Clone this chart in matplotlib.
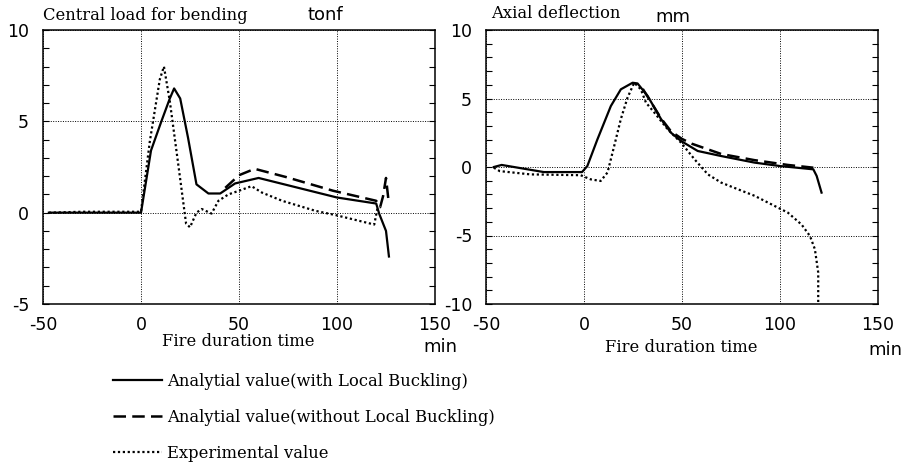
import numpy as np
import matplotlib
matplotlib.use('Agg')
import matplotlib.pyplot as plt
from matplotlib.ticker import MultipleLocator

# hyphen minus like the original print
plt.rcParams['axes.unicode_minus'] = False

# left chart: central load for bending (tonf)
load_solid_t = [-47, 0, 5.1, 10.4, 14.7, 16.9, 20, 24, 28.3, 34.4, 40.4, 48, 60, 100, 120, 121.5, 125, 126.5]
load_solid_v = [0, 0, 3.4, 5.0, 6.25, 6.8, 6.25, 4.1, 1.55, 1.05, 1.05, 1.6, 1.9, 0.83, 0.5, -0.05, -1.0, -2.4]
load_dash_t = [43, 50, 58, 74, 98, 120, 122, 123.5, 125, 126.3]
load_dash_v = [1.36, 2.05, 2.4, 1.95, 1.2, 0.65, 0.3, 0.9, 1.9, 0.65]
load_exp_t = [-47, -30, 0, 4.5, 9.6, 11.7, 14.7, 19, 23, 25, 28.3, 31, 33, 36, 39.5, 44.6, 50, 56.4, 61.7, 72, 89, 100, 119, 120.7]
load_exp_v = [0, 0.05, 0.05, 3.9, 7.3, 8.0, 6.1, 2.65, -0.6, -0.8, 0, 0.2, 0.1, -0.05, 0.65, 1.0, 1.2, 1.45, 1.1, 0.65, 0.1, -0.15, -0.65, 0.27]

# right chart: axial deflection (mm)
defl_solid_t = [-46, -42, -20.5, -1, 1.7, 6.8, 13.7, 18.8, 24.8, 27.3, 32.4, 39.3, 44.4, 49.5, 58, 70, 87, 100, 117, 118.7, 121.2]
defl_solid_v = [0, 0.15, -0.37, -0.37, 0.07, 2.0, 4.45, 5.67, 6.15, 6.1, 5.2, 3.5, 2.5, 1.9, 1.17, 0.8, 0.32, 0.07, -0.17, -0.65, -1.87]
defl_dash_t = [30, 39.3, 44.4, 50, 55, 70, 87, 104, 117]
defl_dash_v = [5.7, 3.55, 2.6, 2.05, 1.7, 0.95, 0.5, 0.15, -0.05]
defl_exp_t = [-46, -43, -27.3, -1.7, 3.4, 8.5, 12, 15.4, 18.8, 22.2, 25.6, 29, 31.6, 35.9, 42.7, 49.5, 56.4, 63.2, 70, 78.6, 87, 99, 104, 111, 115.3, 117.8, 119.5, 119.5]
defl_exp_v = [-0.05, -0.3, -0.54, -0.6, -0.9, -1.02, -0.4, 1.53, 3.5, 5.06, 6.15, 5.67, 4.7, 3.97, 2.75, 1.78, 0.56, -0.54, -1.14, -1.63, -2.1, -2.97, -3.33, -4.2, -5.04, -6.0, -7.7, -10]

x_ticks = [-50, 0, 50, 100, 150]
labels = ['Analytial value(with Local Buckling)',
          'Analytial value(without Local Buckling)',
          'Experimental value']

serif = 'DejaVu Serif'
sans = 'DejaVu Sans'
serif_size = 11.8

fig = plt.figure(figsize=(9.1, 4.62), dpi=100)
ax1 = fig.add_axes([43/910, 1-304/462, 392/910, 274/462])
ax2 = fig.add_axes([486/910, 1-304/462, 392/910, 274/462])

def draw(ax, data, ylim, yticks):
    (st, sv), (dt, dv), (et, ev) = data
    l1, = ax.plot(st, sv, color='black', lw=1.6, solid_joinstyle='round')
    l2, = ax.plot(dt, dv, color='black', lw=1.8, linestyle=(0, (5, 2.5)))
    l3, = ax.plot(et, ev, color='black', lw=1.6, linestyle=(0, (1, 1.2)))
    ax.set_xlim(-50, 150)
    ax.set_ylim(*ylim)
    ax.set_xticks(x_ticks)
    ax.set_yticks(yticks)
    ax.yaxis.set_minor_locator(MultipleLocator(1))
    ax.tick_params(axis='x', length=0, pad=9, labelsize=12.5)
    ax.tick_params(axis='y', which='both', direction='in', left=True, right=True,
                   length=4, width=0.8, pad=10, labelsize=12.5)
    ax.grid(True, color='black', lw=0.7, linestyle=(0, (1, 1.5)))
    for s in ax.spines.values():
        s.set_linewidth(1.1)
    return l1, l2, l3

h = draw(ax1, [(load_solid_t, load_solid_v), (load_dash_t, load_dash_v), (load_exp_t, load_exp_v)],
         (-5, 10), [-5, 0, 5, 10])
draw(ax2, [(defl_solid_t, defl_solid_v), (defl_dash_t, defl_dash_v), (defl_exp_t, defl_exp_v)],
     (-10, 10), [-10, -5, 0, 5, 10])

# titles and units
fig.text(43/910, 1-15/462, 'Central load for bending', family=serif, fontsize=serif_size, va='center')
fig.text(325/910, 1-15/462, 'tonf', family=sans, fontsize=13, va='center', ha='center')
fig.text(491/910, 1-14/462, 'Axial deflection', family=serif, fontsize=serif_size, va='center')
fig.text(673/910, 1-17/462, 'mm', family=sans, fontsize=13, va='center', ha='center')
fig.text(238/910, 1-342/462, 'Fire duration time', family=serif, fontsize=serif_size, va='center', ha='center')
fig.text(440/910, 1-347/462, 'min', family=sans, fontsize=13, va='center', ha='center')
fig.text(681/910, 1-348/462, 'Fire duration time', family=serif, fontsize=serif_size, va='center', ha='center')
fig.text(885/910, 1-350/462, 'min', family=sans, fontsize=13, va='center', ha='center')

fig.legend(h, labels, loc='upper left', bbox_to_anchor=(113/910, 1-373/462), frameon=False,
           prop={'family': serif, 'size': serif_size}, handlelength=3.0, handletextpad=0.3,
           labelspacing=1.15, borderpad=0, borderaxespad=0)

fig.savefig('out.png', dpi=100)
